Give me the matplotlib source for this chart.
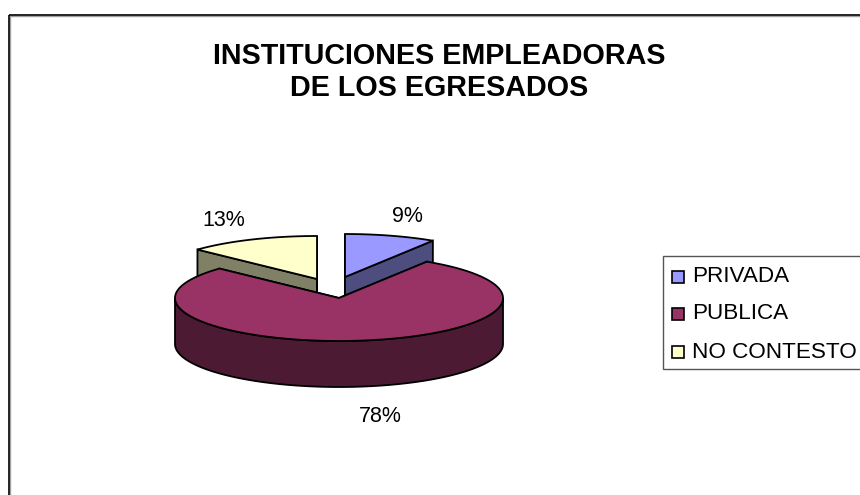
import numpy as np
import matplotlib
matplotlib.use("Agg")
import matplotlib.pyplot as plt
from matplotlib.patches import Polygon, Rectangle

plt.rcParams['font.family'] = ['Liberation Sans', 'DejaVu Sans']

categories = ['PRIVADA', 'PUBLICA', 'NO CONTESTO']
values = [9, 78, 13]
top_colors = ['#9999FF', '#993366', '#FFFFCC']
side_colors = ['#4D4D80', '#4C1A33', '#808066']
title_lines = ['INSTITUCIONES EMPLEADORAS', 'DE LOS EGRESADOS']

# pie geometry in picture pixels
rx, ry, depth = 164, 43, 46
apex = [(345, 277), (339, 298), (317, 279)]
label_pos = [(407, 216), (380, 417), (224, 220)]

fig = plt.figure(figsize=(8.6, 4.95), dpi=100)
ax = fig.add_axes([0, 0, 1, 1])
ax.set_xlim(0, 860)
ax.set_ylim(495, 0)
ax.axis('off')


def rim(cx, cy, a0, a1, n=200):
    # angles clockwise from 12 o'clock
    t = np.radians(np.linspace(a0, a1, n))
    return np.column_stack([cx + rx * np.sin(t), cy - ry * np.cos(t)])


def slice_3d(cx, cy, a0, a1, top, side, z):
    edge = rim(cx, cy, a0, a1)
    lw = 1.3
    # radial walls
    for a in (a0, a1):
        p = rim(cx, cy, a, a, 1)[0]
        wall = [(cx, cy), tuple(p), (p[0], p[1] + depth), (cx, cy + depth)]
        ax.add_patch(Polygon(wall, closed=True, fc=side, ec='black', lw=lw, zorder=z))
    # outer wall, only the front half can be seen
    lo, hi = max(a0, 90), min(a1, 270)
    if hi > lo:
        front = rim(cx, cy, lo, hi)
        shifted = front[::-1] + [0, depth]
        ax.add_patch(Polygon(np.vstack([front, shifted]), closed=True, fc=side, ec='black', lw=lw, zorder=z))
    ax.add_patch(Polygon(np.vstack([[cx, cy], edge]), closed=True, fc=top, ec='black', lw=lw, zorder=z + 0.5))


starts = np.cumsum([0] + values[:-1]) * 3.6
ends = np.cumsum(values) * 3.6
z_order = [2, 5, 1]
for i in range(len(values)):
    slice_3d(apex[i][0], apex[i][1], starts[i], ends[i], top_colors[i], side_colors[i], z_order[i])
    ax.text(label_pos[i][0], label_pos[i][1], '%d%%' % values[i], fontsize=15.5,
            ha='center', va='center', color='black', zorder=8)

# chart frame
ax.add_patch(Rectangle((9.5, 15.5), 900, 600, fc='none', ec='#A0A0A0', lw=1, zorder=0.5))
ax.add_patch(Rectangle((8.5, 14.5), 900, 600, fc='none', ec='black', lw=1.2, zorder=0.6))

for line, y in zip(title_lines, (55.5, 88.5)):
    ax.text(439.5, y, line, fontsize=20.7, fontweight='bold', ha='center', va='center', color='black')

# legend
ax.add_patch(Rectangle((662.5, 256), 300, 113, fc='white', ec='#555555', lw=1, zorder=6))
for i, (name, y, box_y) in enumerate(zip(categories, (277, 313.5, 352), (271, 308, 346))):
    ax.add_patch(Rectangle((672, box_y), 12, 12, fc=top_colors[i], ec='black', lw=1.2, zorder=7))
    ax.text(692, y, name, fontsize=16.2, ha='left', va='center', color='black', zorder=7)

fig.savefig('out.png', dpi=100)
